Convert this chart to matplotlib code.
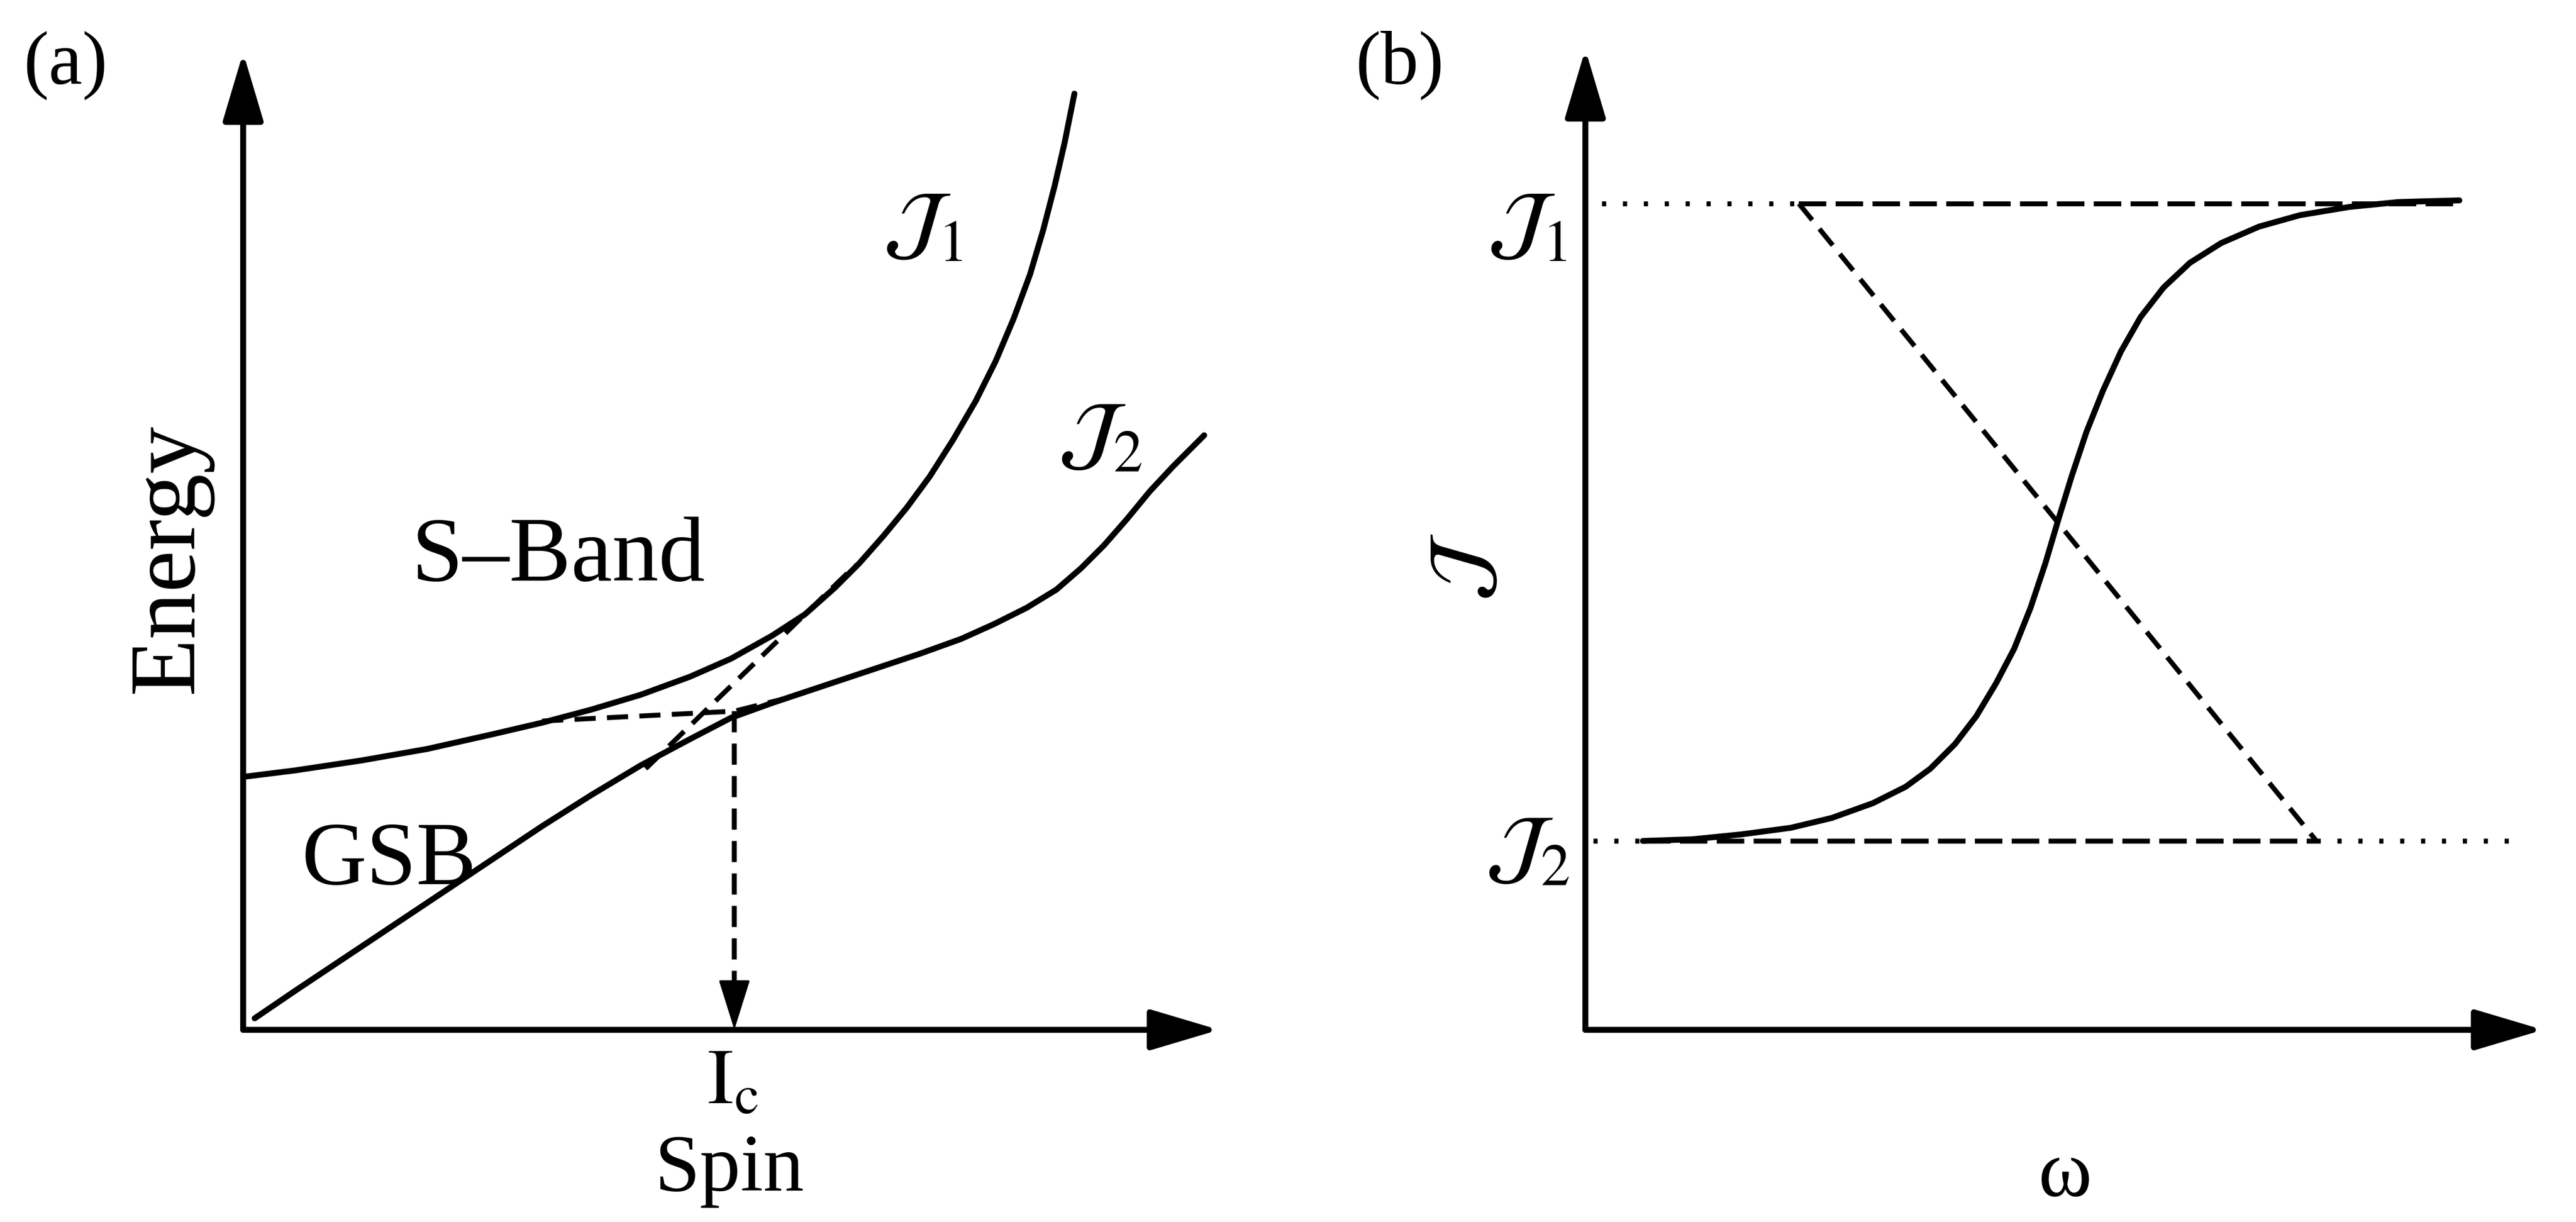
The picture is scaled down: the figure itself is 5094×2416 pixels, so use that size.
import matplotlib
matplotlib.use("Agg")
import matplotlib.pyplot as plt

plt.rcParams["font.family"] = ["Liberation Serif", "DejaVu Serif"]
plt.rcParams["mathtext.fontset"] = "stix"

# ---- panel (a): energy vs spin ----
sband_x = [0.00, 0.32, 0.72, 1.12, 1.52, 1.82, 2.12, 2.42, 2.72, 2.97, 3.22, 3.42,
           3.60, 3.75, 3.90, 4.04, 4.18, 4.32, 4.46, 4.58, 4.69, 4.79, 4.87, 4.94,
           5.00, 5.05, 5.06]
sband_y = [1.54, 1.58, 1.64, 1.71, 1.80, 1.87, 1.95, 2.04, 2.15, 2.26, 2.40, 2.53,
           2.69, 2.84, 3.01, 3.18, 3.37, 3.59, 3.83, 4.07, 4.33, 4.60, 4.87, 5.14,
           5.40, 5.65, 5.70]

gsb_x = [0.07, 0.32, 0.62, 0.92, 1.22, 1.52, 1.82, 2.12, 2.42, 2.72, 2.97, 3.22,
         3.52, 3.82, 4.12, 4.37, 4.57, 4.77, 4.95, 5.10, 5.24, 5.38, 5.52, 5.66, 5.85]
gsb_y = [0.07, 0.24, 0.44, 0.64, 0.84, 1.04, 1.24, 1.43, 1.61, 1.77, 1.90, 1.99,
         2.09, 2.19, 2.29, 2.38, 2.47, 2.57, 2.68, 2.81, 2.95, 3.11, 3.28, 3.43, 3.62]

sband_ext_x = [1.82, 2.99, 3.35]
sband_ext_y = [1.88, 1.94, 2.03]
gsb_ext_x = [2.45, 3.73]
gsb_ext_y = [1.59, 2.83]
crossing_spin = 2.99
crossing_energy = 1.94

# ---- panel (b): alignment vs frequency ----
j1_level = 5.03
j2_level = 1.15
omega_x = [0.35, 0.65, 0.95, 1.25, 1.50, 1.75, 1.95, 2.10, 2.25, 2.38, 2.50, 2.61,
           2.71, 2.80, 2.88, 2.96, 3.05, 3.15, 3.26, 3.38, 3.52, 3.68, 3.87, 4.10,
           4.35, 4.65, 4.95, 5.32]
omega_y = [1.15, 1.16, 1.19, 1.23, 1.29, 1.38, 1.48, 1.59, 1.74, 1.91, 2.11, 2.32,
           2.57, 2.84, 3.11, 3.37, 3.64, 3.89, 4.13, 4.34, 4.52, 4.67, 4.79, 4.89,
           4.96, 5.01, 5.04, 5.05]
top_dot = [0.10, 1.30]
top_dash = [1.30, 5.32]
bot_dot_l = [0.05, 0.35]
bot_dash = [0.35, 4.45]
bot_dot_r = [4.45, 5.65]
diag_x = [1.30, 4.45]
diag_y = [5.03, 1.15]

W, H, DPI = 5094, 2416, 200
fig = plt.figure(figsize=(W / DPI, H / DPI), dpi=DPI)

axa = fig.add_axes([148 / 1568, 1 - 627 / 744, 594 / 1568, 595 / 744])
axb = fig.add_axes([965 / 1568, 1 - 627 / 744, 583 / 1568, 597 / 744])
axa.set_xlim(0, 5.94)
axa.set_ylim(0, 5.95)
axb.set_xlim(0, 5.83)
axb.set_ylim(0, 5.97)

LW_AX = 4.2
LW_C = 4.2
LW_D = 3.5
DASH = (0, (4.3, 2.3))
LONGDASH = (0, (5.6, 1.9))
DOT = (0, (0.85, 3.4))

for ax in (axa, axb):
    ax.set_axis_off()
    axis_arrow = dict(arrowstyle="-|>,head_length=42,head_width=12.5",
                      mutation_scale=1, lw=LW_AX, color="k",
                      shrinkA=0, shrinkB=0)
    ax.annotate("", xy=(0, 1), xytext=(0, 0), xycoords="axes fraction",
                arrowprops=axis_arrow, annotation_clip=False)
    ax.annotate("", xy=(1, 0), xytext=(0, 0), xycoords="axes fraction",
                arrowprops=axis_arrow, annotation_clip=False)

# panel (a) curves
axa.plot(sband_x, sband_y, color="k", lw=LW_C, solid_capstyle="round",
         solid_joinstyle="round")
axa.plot(gsb_x, gsb_y, color="k", lw=LW_C, solid_capstyle="round",
         solid_joinstyle="round")
axa.plot(sband_ext_x, sband_ext_y, color="k", lw=LW_D, linestyle=DASH)
axa.plot(gsb_ext_x, gsb_ext_y, color="k", lw=LW_D, linestyle=DASH)
axa.plot([crossing_spin, crossing_spin], [crossing_energy, 0.28],
         color="k", lw=LW_D, linestyle=DASH)
axa.annotate("", xy=(crossing_spin, 0.0), xytext=(crossing_spin, 0.30),
             arrowprops=dict(arrowstyle="-|>,head_length=32,head_width=10",
                             mutation_scale=1, lw=1.5, color="k",
                             shrinkA=0, shrinkB=0))

# panel (b) curves
axb.plot(top_dot, [j1_level] * 2, color="k", lw=LW_D, linestyle=DOT)
axb.plot(top_dash, [j1_level] * 2, color="k", lw=LW_D, linestyle=LONGDASH)
axb.plot(bot_dot_l, [j2_level] * 2, color="k", lw=LW_D, linestyle=DOT)
axb.plot(bot_dash, [j2_level] * 2, color="k", lw=LW_D, linestyle=LONGDASH)
axb.plot(bot_dot_r, [j2_level] * 2, color="k", lw=LW_D, linestyle=DOT)
axb.plot(diag_x, diag_y, color="k", lw=LW_D, linestyle=DASH)
axb.plot(omega_x, omega_y, color="k", lw=LW_C, solid_capstyle="round",
         solid_joinstyle="round")

FS = 54
JFS = 60
fig.text(40 / 1568, 1 - 40 / 744, "(a)", fontsize=FS, ha="center", va="center")
fig.text(852 / 1568, 1 - 40 / 744, "(b)", fontsize=FS, ha="center", va="center")
fig.text(103 / 1568, 1 - 340 / 744, "Energy", fontsize=67, rotation=90,
         ha="center", va="center")
fig.text(340 / 1568, 1 - 340 / 744, "S\u2013Band", fontsize=66, ha="center", va="center")
fig.text(237 / 1568, 1 - 525 / 744, "GSB", fontsize=64, ha="center", va="center")
fig.text(562 / 1568, 1 - 140 / 744, r"$\mathcal{J}_{1}$", fontsize=JFS, ha="center", va="center")
fig.text(670 / 1568, 1 - 268 / 744, r"$\mathcal{J}_{2}$", fontsize=JFS, ha="center", va="center")
fig.text(446 / 1568, 1 - 660 / 744, r"$\mathrm{I}_{\mathrm{c}}$", fontsize=56, ha="center", va="center")
fig.text(444 / 1568, 1 - 713 / 744, "Spin", fontsize=58, ha="center", va="center")

fig.text(893 / 1568, 1 - 345 / 744, r"$\mathcal{J}$", fontsize=JFS, rotation=90,
         ha="center", va="center")
fig.text(930 / 1568, 1 - 140 / 744, r"$\mathcal{J}_{1}$", fontsize=JFS, ha="center", va="center")
fig.text(930 / 1568, 1 - 520 / 744, r"$\mathcal{J}_{2}$", fontsize=JFS, ha="center", va="center")
fig.text(1257 / 1568, 1 - 716 / 744, "\u03c9", fontsize=58, ha="center", va="center")

fig.savefig("out.png", dpi=DPI, facecolor="white")
